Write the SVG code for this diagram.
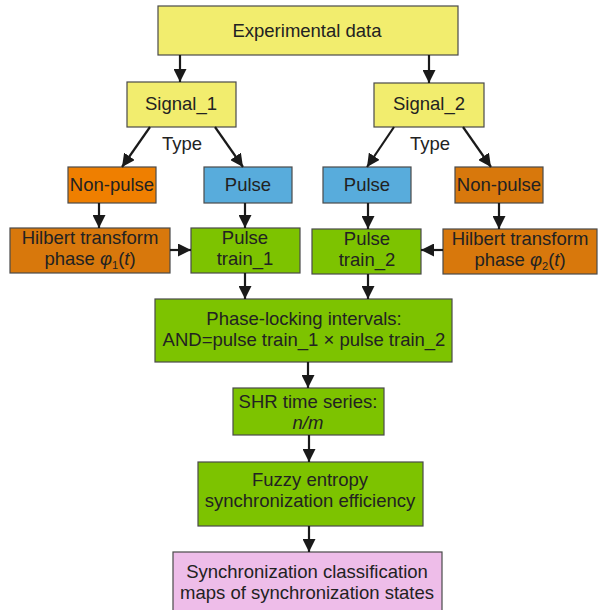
<svg xmlns="http://www.w3.org/2000/svg" width="598" height="610" viewBox="0 0 598 610">
<defs>
<marker id="ah" markerWidth="13" markerHeight="13" viewBox="0 0 13 13" refX="13" refY="6.5" orient="auto" markerUnits="userSpaceOnUse">
<path d="M0,0 L13,6.5 L0,13 Z" fill="#1a1a1a"/>
</marker>
<style>
.b{stroke:#4a4a4a;stroke-width:1.2}
.y{fill:#f2ed6e}
.o1{fill:#ef7f00}
.o2{fill:#d8780c}
.bl{fill:#58acdc}
.g{fill:#7dc300}
.p{fill:#eebde9}
text{font-family:"Liberation Sans",Arial,sans-serif;font-size:18.5px;fill:#222;text-anchor:middle}
.c line{stroke:#1a1a1a;stroke-width:2.2;marker-end:url(#ah)}
</style>
</defs>
<rect width="598" height="610" fill="#fff"/>
<g id="experimental"><rect class="b y" x="158" y="6" width="300" height="49"/><text x="307" y="37">Experimental data</text></g>
<g id="signal1"><rect class="b y" x="127" y="82" width="109" height="45"/><text x="181" y="110">Signal_1</text></g>
<g id="signal2"><rect class="b y" x="374" y="83" width="110" height="44"/><text x="429" y="110">Signal_2</text></g>
<g id="type1"><text x="182" y="150">Type</text></g>
<g id="type2"><text x="430" y="150">Type</text></g>
<g id="nonpulse1"><rect class="b o1" x="68" y="167" width="88" height="36"/><text x="112" y="191">Non-pulse</text></g>
<g id="pulse1"><rect class="b bl" x="204" y="167" width="88" height="36"/><text x="248" y="191">Pulse</text></g>
<g id="pulse2"><rect class="b bl" x="323" y="167" width="88" height="36"/><text x="367" y="191">Pulse</text></g>
<g id="nonpulse2"><rect class="b o2" x="455" y="167" width="88" height="36"/><text x="499" y="191">Non-pulse</text></g>
<g id="hilbert1"><rect class="b o2" x="10" y="228" width="160" height="45"/><text x="90" y="244">Hilbert transform</text><text x="90" y="265">phase <tspan font-style="italic">φ</tspan><tspan font-size="11" dy="4">1</tspan><tspan dy="-4">(</tspan><tspan font-style="italic">t</tspan>)</text></g>
<g id="train1"><rect class="b g" x="191" y="228" width="109" height="45"/><text x="245" y="244">Pulse</text><text x="245" y="265">train_1</text></g>
<g id="train2"><rect class="b g" x="312" y="229" width="109" height="45"/><text x="367" y="245">Pulse</text><text x="367" y="266">train_2</text></g>
<g id="hilbert2"><rect class="b o2" x="443" y="229" width="154" height="45"/><text x="520" y="245">Hilbert transform</text><text x="520" y="266">phase <tspan font-style="italic">φ</tspan><tspan font-size="11" dy="4">2</tspan><tspan dy="-4">(</tspan><tspan font-style="italic">t</tspan>)</text></g>
<g id="phaselock"><rect class="b g" x="155" y="299" width="297" height="63"/><text x="304" y="325">Phase-locking intervals:</text><text x="304" y="346">AND=pulse train_1 × pulse train_2</text></g>
<g id="shr"><rect class="b g" x="233" y="388" width="151" height="47"/><text x="308" y="408">SHR time series:</text><text x="308" y="429" font-style="italic">n/m</text></g>
<g id="fuzzy"><rect class="b g" x="198" y="462" width="225" height="64"/><text x="310" y="486">Fuzzy entropy</text><text x="310" y="507">synchronization efficiency</text></g>
<g id="sync"><rect class="b p" x="173" y="552" width="269" height="62"/><text x="307" y="578">Synchronization classification</text><text x="307" y="599">maps of synchronization states</text></g>
<g id="connectors" class="c">
<line x1="180" y1="55" x2="180" y2="82"/>
<line x1="429" y1="55" x2="429" y2="83"/>
<line x1="150" y1="127" x2="122" y2="167"/>
<line x1="215" y1="127" x2="243" y2="167"/>
<line x1="394" y1="127" x2="367" y2="167"/>
<line x1="463" y1="127" x2="491" y2="167"/>
<line x1="99" y1="203" x2="99" y2="228"/>
<line x1="245" y1="203" x2="245" y2="228"/>
<line x1="368" y1="203" x2="368" y2="229"/>
<line x1="499" y1="203" x2="499" y2="229"/>
<line x1="170" y1="250" x2="191" y2="250"/>
<line x1="443" y1="250" x2="421" y2="250"/>
<line x1="245" y1="273" x2="245" y2="299"/>
<line x1="368" y1="274" x2="368" y2="299"/>
<line x1="308" y1="362" x2="308" y2="388"/>
<line x1="309" y1="435" x2="309" y2="462"/>
<line x1="309" y1="526" x2="309" y2="552"/>
</g>
</svg>
